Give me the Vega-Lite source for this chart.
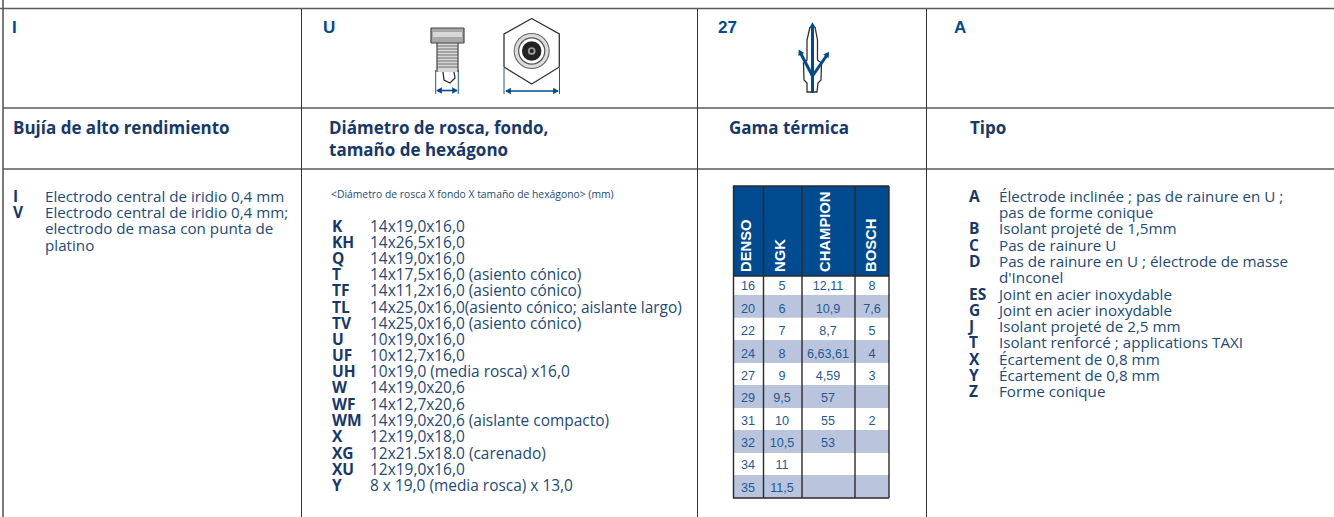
{"$schema":"https://vega.github.io/schema/vega-lite/v6.json","width":1334,"height":517,"padding":0,"autosize":{"type":"none"},"background":"white","view":{"stroke":null},
"config":{"text":{"align":"left","baseline":"middle"}},
"resolve":{"scale":{"color":"independent","size":"independent","strokeWidth":"independent"}},
"datasets":{
"rects":[
{"x":733,"x2":889,"y":186,"y2":276,"kind":"header"},
{"x":733,"x2":889,"y":295,"y2":317.7,"kind":"band"},
{"x":733,"x2":889,"y":340,"y2":363,"kind":"band"},
{"x":733,"x2":889,"y":385,"y2":408,"kind":"band"},
{"x":733,"x2":889,"y":430,"y2":453,"kind":"band"},
{"x":733,"x2":889,"y":475,"y2":498,"kind":"band"},
{"x":431,"x2":464,"y":28,"y2":43,"kind":"plughead"},
{"x":433,"x2":462,"y":32,"y2":37,"kind":"plugband"},
{"x":437,"x2":458,"y":43,"y2":72,"kind":"plugband"}],
"rules":[
{"x":0,"x2":1334,"y":8.5,"y2":8.5,"kind":"grid"},
{"x":3,"x2":1334,"y":108,"y2":108,"kind":"grid"},
{"x":3,"x2":1334,"y":169,"y2":169,"kind":"grid"},
{"x":3,"x2":3,"y":0,"y2":517,"kind":"grid"},
{"x":301.5,"x2":301.5,"y":9,"y2":517,"kind":"thin"},
{"x":697.5,"x2":697.5,"y":9,"y2":517,"kind":"thin"},
{"x":926.5,"x2":926.5,"y":9,"y2":517,"kind":"thin"},
{"x":733.5,"x2":733.5,"y":186,"y2":498,"kind":"table"},
{"x":763.5,"x2":763.5,"y":186,"y2":498,"kind":"table"},
{"x":802,"x2":802,"y":186,"y2":498,"kind":"table"},
{"x":855,"x2":855,"y":186,"y2":498,"kind":"table"},
{"x":889,"x2":889,"y":186,"y2":498,"kind":"table"},
{"x":733,"x2":889,"y":186,"y2":186,"kind":"table"},
{"x":733,"x2":889,"y":276,"y2":276,"kind":"table"},
{"x":733,"x2":889,"y":498,"y2":498,"kind":"table"},
{"x":435.7,"x2":435.7,"y":70,"y2":94,"kind":"dim"},
{"x":458.3,"x2":458.3,"y":70,"y2":94,"kind":"dim"},
{"x":437,"x2":457,"y":90.5,"y2":90.5,"kind":"dimthick"},
{"x":504,"x2":504,"y":68,"y2":94,"kind":"dim"},
{"x":559.5,"x2":559.5,"y":68,"y2":94,"kind":"dim"},
{"x":506,"x2":558,"y":91,"y2":91,"kind":"dimthick"},
{"x":431,"x2":464,"y":28,"y2":28,"kind":"plug"},
{"x":431,"x2":464,"y":43,"y2":43,"kind":"plug"},
{"x":431,"x2":431,"y":28,"y2":43,"kind":"plug"},
{"x":464,"x2":464,"y":28,"y2":43,"kind":"plug"},
{"x":437,"x2":437,"y":43,"y2":72,"kind":"plug"},
{"x":458,"x2":458,"y":43,"y2":72,"kind":"plug"},
{"x":437,"x2":458,"y":46,"y2":46,"kind":"plugfine"},
{"x":437,"x2":458,"y":49,"y2":49,"kind":"plugfine"},
{"x":437,"x2":458,"y":52,"y2":52,"kind":"plugfine"},
{"x":437,"x2":458,"y":55,"y2":55,"kind":"plugfine"},
{"x":437,"x2":458,"y":58,"y2":58,"kind":"plugfine"},
{"x":437,"x2":458,"y":61,"y2":61,"kind":"plugfine"},
{"x":437,"x2":458,"y":64,"y2":64,"kind":"plugfine"},
{"x":437,"x2":458,"y":67,"y2":67,"kind":"plugfine"},
{"x":812.5,"x2":812.5,"y":26,"y2":93,"kind":"trident"}],
"polys":[
{"g":"hex","o":1,"x":531.7,"y":18.5},{"g":"hex","o":2,"x":559.3,"y":34},{"g":"hex","o":3,"x":559.3,"y":67},{"g":"hex","o":4,"x":531.7,"y":84},{"g":"hex","o":5,"x":504,"y":67},{"g":"hex","o":6,"x":504,"y":34},{"g":"hex","o":7,"x":531.7,"y":18.5},
{"g":"elec","o":1,"x":443,"y":72},{"g":"elec","o":2,"x":444,"y":80},{"g":"elec","o":3,"x":450,"y":83},{"g":"elec","o":4,"x":455,"y":78},{"g":"elec","o":5,"x":454,"y":72},
{"g":"plugo","o":1,"x":810,"y":27},{"g":"plugo","o":2,"x":807,"y":40},{"g":"plugo","o":3,"x":807,"y":60},{"g":"plugo","o":4,"x":803.5,"y":63},{"g":"plugo","o":5,"x":804,"y":80},{"g":"plugo","o":6,"x":807,"y":83},{"g":"plugo","o":7,"x":807,"y":92},{"g":"plugo","o":8,"x":817,"y":92},{"g":"plugo","o":9,"x":818,"y":83},{"g":"plugo","o":10,"x":821,"y":80},{"g":"plugo","o":11,"x":821.5,"y":63},{"g":"plugo","o":12,"x":817.5,"y":60},{"g":"plugo","o":13,"x":817.5,"y":40},{"g":"plugo","o":14,"x":815,"y":27}],
"branches":[
{"g":"bl","o":1,"x":812.5,"y":76},{"g":"bl","o":2,"x":800.5,"y":53},
{"g":"br","o":1,"x":812.5,"y":76},{"g":"br","o":2,"x":827,"y":55}],
"hexfill":[
{"x":531.7,"o":1,"y":18.5},{"x":559.3,"o":2,"y":34},{"x":559.3,"o":3,"y":67},{"x":531.7,"o":4,"y":84},{"x":504,"o":5,"y":67},{"x":504,"o":6,"y":34}],
"discs":[
{"x":531.7,"y":51,"kind":"d1"},{"x":531.7,"y":51,"kind":"d2"},{"x":531.7,"y":51,"kind":"d3"},{"x":531.7,"y":51,"kind":"d4"},{"x":531.7,"y":51,"kind":"d5"},{"x":531.7,"y":51,"kind":"d6"},{"x":531.7,"y":51,"kind":"d7"}],
"heads":[
{"x":439,"y":90.5,"heading":270},{"x":455,"y":90.5,"heading":90},{"x":508,"y":91,"heading":270},{"x":556,"y":91,"heading":90},
{"x":812.5,"y":25,"heading":0},{"x":800,"y":52,"heading":333},{"x":827.5,"y":54,"heading":35}],
"top":[{"x":12,"y":28,"t":"I"},{"x":323,"y":28,"t":"U"},{"x":718,"y":28,"t":"27"},{"x":954,"y":28,"t":"A"}],
"heading":[{"x":13,"y":129,"t":"Bujía de alto rendimiento"},{"x":329,"y":129,"t":"Diámetro de rosca, fondo,"},{"x":329,"y":151,"t":"tamaño de hexágono"},{"x":729,"y":129,"t":"Gama térmica"},{"x":970,"y":129,"t":"Tipo"}],
"small":[{"x":331,"y":195,"t":"<Diámetro de rosca X fondo X tamaño de hexágono> (mm)"}],
"keys":[
{"x":13,"y":197,"t":"I"},{"x":13,"y":213,"t":"V"},
{"x":332,"y":227,"t":"K"},{"x":332,"y":243,"t":"KH"},{"x":332,"y":259,"t":"Q"},{"x":332,"y":275,"t":"T"},{"x":332,"y":291,"t":"TF"},{"x":332,"y":308,"t":"TL"},{"x":332,"y":324,"t":"TV"},{"x":332,"y":340,"t":"U"},{"x":332,"y":356,"t":"UF"},{"x":332,"y":372,"t":"UH"},{"x":332,"y":388,"t":"W"},{"x":332,"y":405,"t":"WF"},{"x":332,"y":421,"t":"WM"},{"x":332,"y":437,"t":"X"},{"x":332,"y":454,"t":"XG"},{"x":332,"y":470,"t":"XU"},{"x":332,"y":486,"t":"Y"},
{"x":969,"y":197,"t":"A"},{"x":969,"y":229,"t":"B"},{"x":969,"y":246,"t":"C"},{"x":969,"y":262,"t":"D"},{"x":969,"y":295,"t":"ES"},{"x":969,"y":311,"t":"G"},{"x":969,"y":327,"t":"J"},{"x":969,"y":343,"t":"T"},{"x":969,"y":360,"t":"X"},{"x":969,"y":376,"t":"Y"},{"x":969,"y":392,"t":"Z"}],
"body":[
{"x":45,"y":197,"t":"Electrodo central de iridio 0,4 mm"},{"x":45,"y":213,"t":"Electrodo central de iridio 0,4 mm;"},{"x":45,"y":229,"t":"electrodo de masa con punta de"},{"x":45,"y":246,"t":"platino"},
{"x":999,"y":197,"t":"Électrode inclinée ; pas de rainure en U ;"},{"x":999,"y":213,"t":"pas de forme conique"},{"x":999,"y":229,"t":"Isolant projeté de 1,5mm"},{"x":999,"y":246,"t":"Pas de rainure U"},{"x":999,"y":262,"t":"Pas de rainure en U ;  électrode de masse"},{"x":999,"y":278,"t":"d'Inconel"},{"x":999,"y":295,"t":"Joint en acier inoxydable"},{"x":999,"y":311,"t":"Joint en acier inoxydable"},{"x":999,"y":327,"t":"Isolant projeté de 2,5 mm"},{"x":999,"y":343,"t":"Isolant renforcé ; applications TAXI"},{"x":999,"y":360,"t":"Écartement de 0,8 mm"},{"x":999,"y":376,"t":"Écartement de 0,8 mm"},{"x":999,"y":392,"t":"Forme conique"}],
"body2":[
{"x":370,"y":227,"t":"14x19,0x16,0"},{"x":370,"y":243,"t":"14x26,5x16,0"},{"x":370,"y":259,"t":"14x19,0x16,0"},{"x":370,"y":275,"t":"14x17,5x16,0 (asiento cónico)"},{"x":370,"y":291,"t":"14x11,2x16,0 (asiento cónico)"},{"x":370,"y":308,"t":"14x25,0x16,0(asiento cónico; aislante largo)"},{"x":370,"y":324,"t":"14x25,0x16,0 (asiento cónico)"},{"x":370,"y":340,"t":"10x19,0x16,0"},{"x":370,"y":356,"t":"10x12,7x16,0"},{"x":370,"y":372,"t":"10x19,0 (media rosca) x16,0"},{"x":370,"y":388,"t":"14x19,0x20,6"},{"x":370,"y":405,"t":"14x12,7x20,6"},{"x":370,"y":421,"t":"14x19,0x20,6 (aislante compacto)"},{"x":370,"y":437,"t":"12x19,0x18,0"},{"x":370,"y":454,"t":"12x21.5x18.0 (carenado)"},{"x":370,"y":470,"t":"12x19,0x16,0"},{"x":370,"y":486,"t":"8 x 19,0 (media rosca) x 13,0"}],
"thead":[{"x":747,"y":272,"t":"DENSO"},{"x":781,"y":272,"t":"NGK"},{"x":826,"y":272,"t":"CHAMPION"},{"x":872,"y":272,"t":"BOSCH"}],
"tnum":[
{"x":748,"y":286,"t":"16"},{"x":782,"y":286,"t":"5"},{"x":828,"y":286,"t":"12,11"},{"x":872,"y":286,"t":"8"},
{"x":748,"y":309,"t":"20"},{"x":782,"y":309,"t":"6"},{"x":828,"y":309,"t":"10,9"},{"x":872,"y":309,"t":"7,6"},
{"x":748,"y":331,"t":"22"},{"x":782,"y":331,"t":"7"},{"x":828,"y":331,"t":"8,7"},{"x":872,"y":331,"t":"5"},
{"x":748,"y":354,"t":"24"},{"x":782,"y":354,"t":"8"},{"x":828,"y":354,"t":"6,63,61"},{"x":872,"y":354,"t":"4"},
{"x":748,"y":376,"t":"27"},{"x":782,"y":376,"t":"9"},{"x":828,"y":376,"t":"4,59"},{"x":872,"y":376,"t":"3"},
{"x":748,"y":398,"t":"29"},{"x":782,"y":398,"t":"9,5"},{"x":828,"y":398,"t":"57"},
{"x":748,"y":421,"t":"31"},{"x":782,"y":421,"t":"10"},{"x":828,"y":421,"t":"55"},{"x":872,"y":421,"t":"2"},
{"x":748,"y":443,"t":"32"},{"x":782,"y":443,"t":"10,5"},{"x":828,"y":443,"t":"53"},
{"x":748,"y":465,"t":"34"},{"x":782,"y":465,"t":"11"},
{"x":748,"y":488,"t":"35"},{"x":782,"y":488,"t":"11,5"}]
},
"data":{"name":"rects"},
"encoding":{"x":{"field":"x","type":"quantitative","scale":{"domain":[0,1334],"range":[0,1334]},"axis":null},"y":{"field":"y","type":"quantitative","scale":{"domain":[0,517],"range":[0,517]},"axis":null}},
"layer":[
{"data":{"name":"rects"},"mark":{"type":"rect"},"encoding":{"x2":{"field":"x2"},"y2":{"field":"y2"},"color":{"field":"kind","type":"nominal","legend":null,"scale":{"domain":["header","band","plughead","plugband"],"range":["#004a8f","#bac4dc","#a8a8a8","#d8d8d8"]}}}},
{"data":{"name":"hexfill"},"mark":{"type":"area","fill":"#dcdcdc","interpolate":"linear-closed","orient":"vertical"},"encoding":{"order":{"field":"o","type":"quantitative"},"y2":{"datum":51}}},
{"data":{"name":"polys"},"mark":{"type":"line","strokeWidth":1.3,"color":"#333333"},"encoding":{"detail":{"field":"g","type":"nominal"},"order":{"field":"o","type":"quantitative"}}},
{"data":{"name":"rules"},"mark":{"type":"rule"},"encoding":{"x2":{"field":"x2"},"y2":{"field":"y2"},
"color":{"field":"kind","type":"nominal","legend":null,"scale":{"domain":["grid","thin","table","dim","dimthick","plug","plugfine","trident"],"range":["#5a5a5a","#333333","#2a2a2a","#1d5a9a","#004a8f","#444444","#555555","#004a8f"]}},
"strokeWidth":{"field":"kind","type":"nominal","legend":null,"scale":{"type":"ordinal","domain":["grid","thin","table","dim","dimthick","plug","plugfine","trident"],"range":[1.6,1,1.4,1,1.6,1.2,0.8,3]}}}},
{"data":{"name":"branches"},"mark":{"type":"line","strokeWidth":3,"color":"#004a8f"},"encoding":{"detail":{"field":"g","type":"nominal"},"order":{"field":"o","type":"quantitative"}}},
{"data":{"name":"discs"},"mark":{"type":"point","filled":true,"opacity":1,"shape":"circle"},"encoding":{
"size":{"field":"kind","type":"nominal","legend":null,"scale":{"type":"ordinal","domain":["d1","d2","d3","d4","d5","d6","d7"],"range":[1300,1150,750,620,380,60,16]}},
"color":{"field":"kind","type":"nominal","legend":null,"scale":{"domain":["d1","d2","d3","d4","d5","d6","d7"],"range":["#666666","#dcdcdc","#555555","#ffffff","#222222","#999999","#222222"]}}}},
{"data":{"name":"heads"},"mark":{"type":"point","filled":true,"opacity":1,"shape":"triangle-up","size":42,"color":"#004a8f"},"encoding":{"angle":{"field":"heading","type":"quantitative","scale":{"domain":[0,360],"range":[0,360]}}}},
{"data":{"name":"top"},"mark":{"type":"text","font":"Liberation Sans","fontWeight":"bold","fontSize":17,"color":"#004a8f"},"encoding":{"text":{"field":"t"}}},
{"data":{"name":"heading"},"mark":{"type":"text","font":"Open Sans","fontWeight":"bold","fontSize":17,"color":"#16386b"},"encoding":{"text":{"field":"t"}}},
{"data":{"name":"small"},"mark":{"type":"text","font":"Open Sans","fontSize":10.35,"color":"#1c4a7a"},"encoding":{"text":{"field":"t"}}},
{"data":{"name":"keys"},"mark":{"type":"text","font":"Open Sans","fontWeight":"bold","fontSize":15.5,"color":"#16386b"},"encoding":{"text":{"field":"t"}}},
{"data":{"name":"body"},"mark":{"type":"text","font":"Open Sans","fontSize":15.2,"color":"#1c4a7a"},"encoding":{"text":{"field":"t"}}},
{"data":{"name":"body2"},"mark":{"type":"text","font":"Open Sans","fontSize":15.45,"color":"#1c4a7a"},"encoding":{"text":{"field":"t"}}},
{"data":{"name":"thead"},"mark":{"type":"text","font":"Liberation Sans","fontWeight":"bold","fontSize":14.8,"color":"#ffffff","angle":270,"align":"left","baseline":"middle"},"encoding":{"text":{"field":"t"}}},
{"data":{"name":"tnum"},"mark":{"type":"text","font":"Liberation Sans","fontSize":12.6,"color":"#1f5a96","align":"center"},"encoding":{"text":{"field":"t"}}}
]}
